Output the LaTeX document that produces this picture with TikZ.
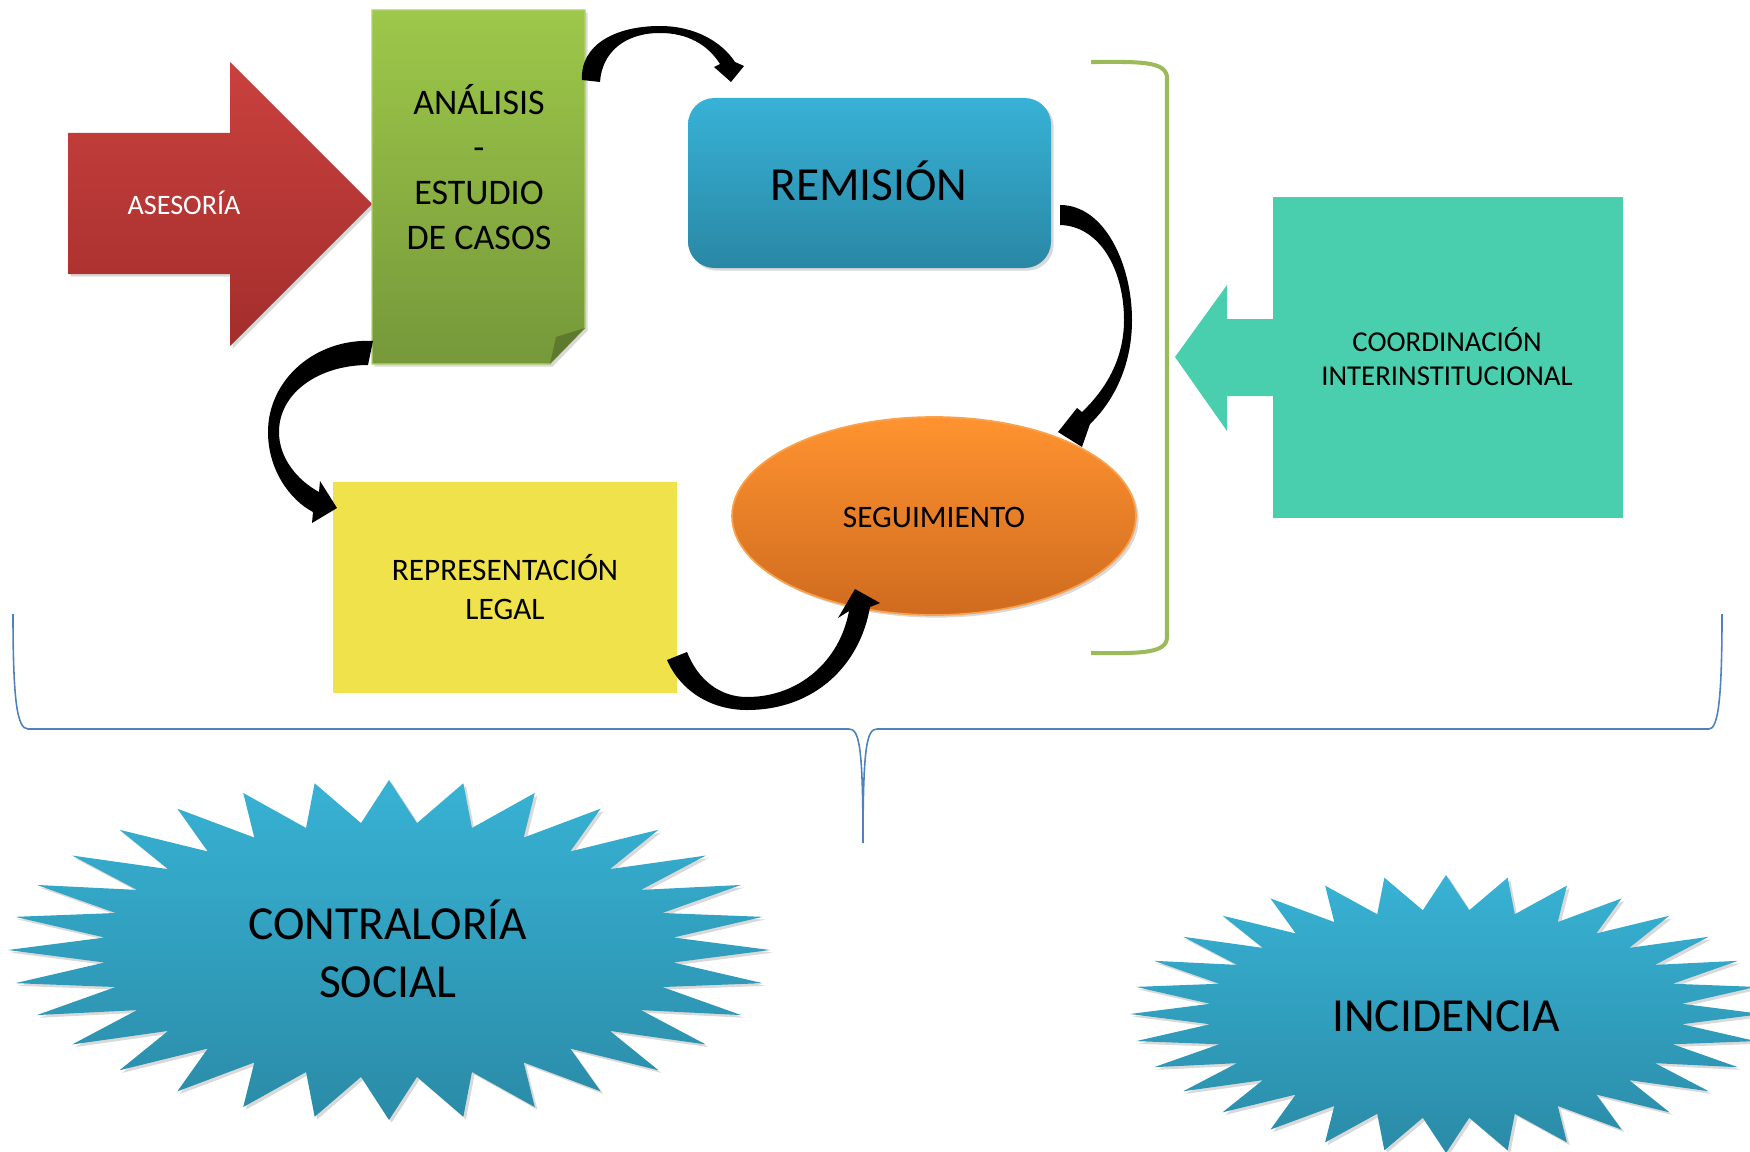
\documentclass[tikz,border=0pt]{standalone}
\usepackage{fontspec}
\setmainfont{Carlito}
\usetikzlibrary{shadows}
\definecolor{redT}{HTML}{C9413E}
\definecolor{redB}{HTML}{A32E2C}
\definecolor{grnT}{HTML}{9DC84A}
\definecolor{grnB}{HTML}{76983A}
\definecolor{bluT}{HTML}{37B2D6}
\definecolor{bluB}{HTML}{2A87A5}
\definecolor{yelC}{HTML}{F0E24A}
\definecolor{orT}{HTML}{FF9330}
\definecolor{orB}{HTML}{CF6B1F}
\definecolor{orE}{HTML}{F9A24E}
\definecolor{tealC}{HTML}{4ACFAE}
\definecolor{brkC}{HTML}{9BBB59}
\definecolor{braceC}{HTML}{4F81BD}
\definecolor{starT}{HTML}{38B2D4}
\definecolor{starB}{HTML}{2A8BA7}
\begin{document}
\begin{tikzpicture}[x=0.02cm,y=-0.02cm,
  lbl/.style={inner sep=0pt, align=center, text=black},
  shad/.style={drop shadow={shadow xshift=1.5pt, shadow yshift=-1.5pt, opacity=0.3}},
  curvarrow/.style={fill=black}]
\useasboundingbox (0,0) rectangle (1750,1152);
\clip (0,0) rectangle (1750,1152);

% blue brace
\draw[braceC, line width=0.9pt] (13,614) .. controls (13,700) and (17,729) .. (28,729) -- (849,729)
  .. controls (859,729) and (863,745) .. (863,843) .. controls (863,745) and (867,729) .. (877,729)
  -- (1709,729) .. controls (1718,729) and (1722,700) .. (1722,614);

% green bracket
\draw[brkC, line width=2.3pt] (1091,62) .. controls (1135,62) and (1167,60) .. (1167,78) -- (1167,637)
  .. controls (1167,655) and (1135,653) .. (1091,653);

% ASESORIA arrow
\path[shad, top color=redT, bottom color=redB] (68,133) -- (230,133) -- (230,62) -- (372,204)
  -- (230,346) -- (230,274) -- (68,274) -- cycle;
\node[lbl, text=white, font=\fontsize{16}{19}\selectfont] (ases) at (184,203) {ASESORÍA};

% ANALISIS box
\path[shad, top color=grnT, bottom color=grnB, draw=grnT!80!white, line width=0.6pt]
  (372,10) -- (585,10) -- (585,328) -- (550,364) -- (372,364) -- cycle;
\fill[grnB!80!black] (585,328) -- (556,337) -- (550,364) -- cycle;
\node[lbl, font=\fontsize{20.5}{25.5}\selectfont] (ana) at (479,167) {ANÁLISIS\\-\\ESTUDIO\\DE CASOS};

% REMISION
\path[shad, top color=bluT, bottom color=bluB, rounded corners=15pt] (688,98) rectangle (1051,268);
\node[lbl, font=\fontsize{27}{32}\selectfont] (rem) at (869,181) {REMISIÓN};

% REPRESENTACION
\fill[yelC] (333,482) rectangle (677,693);
\node[lbl, font=\fontsize{17.8}{22}\selectfont] (rep) at (505,587) {REPRESENTACIÓN\\LEGAL};

% SEGUIMIENTO
\path[shad, top color=orT, bottom color=orB, draw=orE, line width=1pt] (934,516) ellipse [x radius=4.04cm, y radius=1.98cm];
\node[lbl, font=\fontsize{17.8}{22}\selectfont] (seg) at (934,517) {SEGUIMIENTO};

% COORDINACION
\fill[tealC] (1273,197) rectangle (1623,518);
\fill[tealC] (1274,319) -- (1227,319) -- (1227,285) -- (1175,357) -- (1227,431) -- (1227,396) -- (1274,396) -- cycle;
\node[lbl, font=\fontsize{16.4}{19.3}\selectfont] (coo) at (1447,357) {COORDINACIÓN\\INTERINSTITUCIONAL};

% stars
\path[shad, top color=starT, bottom color=starB] plot[variable=\k, samples at={0,...,63}]
  ({389+381*(1-0.25*mod(\k,2))*cos(90+\k*5.625)}, {950+170*(1-0.25*mod(\k,2))*sin(90+\k*5.625)}) -- cycle;
\node[lbl, font=\fontsize{27}{33}\selectfont] (con) at (388,949) {CONTRALORÍA\\SOCIAL};
\path[shad, top color=starT, bottom color=starB] plot[variable=\k, samples at={0,...,63}]
  ({1446+316*(1-0.25*mod(\k,2))*cos(90+\k*5.625)}, {1014+139*(1-0.25*mod(\k,2))*sin(90+\k*5.625)}) -- cycle;
\node[lbl, font=\fontsize{27}{33}\selectfont] (inc) at (1446,1016) {INCIDENCIA};

% curved arrows
% ANALISIS -> REMISION
\fill[curvarrow] (582,80) .. controls (580,45) and (615,26) .. (660,26) .. controls (695,26) and (722,42) .. (735,62)
  -- (744,66) -- (731,82) -- (714,67) -- (720,64) .. controls (708,45) and (688,33) .. (660,33)
  .. controls (625,33) and (602,52) .. (600,82) -- cycle;
% REMISION -> SEGUIMIENTO
\fill[curvarrow] (1060,205) .. controls (1105,205) and (1132,265) .. (1132,320) .. controls (1132,370) and (1110,405) .. (1090,424)
  -- (1082,447) -- (1058,432) -- (1077,408) -- (1082,412) .. controls (1105,390) and (1124,360) .. (1124,320)
  .. controls (1124,270) and (1100,226) .. (1060,225) -- cycle;
% ANALISIS -> REPRESENTACION
\fill[curvarrow] (373,341) .. controls (315,338) and (268,380) .. (268,432) .. controls (268,470) and (290,500) .. (313,512)
  -- (312,523) -- (337,508) -- (320,481) -- (319,492) .. controls (297,480) and (279,458) .. (279,432)
  .. controls (279,392) and (320,365) .. (368,365) -- cycle;
% REPRESENTACION -> SEGUIMIENTO
\fill[curvarrow] (667,660) .. controls (680,690) and (710,710) .. (747,710) .. controls (815,710) and (860,665) .. (870,607)
  -- (880,603) -- (855,589) -- (838,618) -- (849,611) .. controls (840,660) and (800,697) .. (747,697)
  .. controls (720,697) and (698,680) .. (687,652) -- cycle;
\end{tikzpicture}
\end{document}
